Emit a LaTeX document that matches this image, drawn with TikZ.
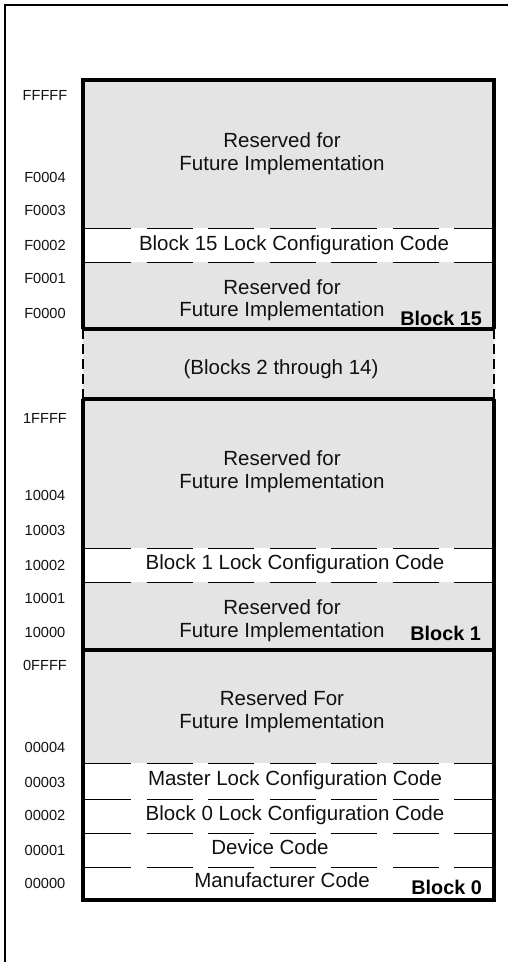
\documentclass[tikz,border=0pt]{standalone}
\usepackage{fontspec}
\setmainfont{Liberation Sans}
\definecolor{cellgray}{RGB}{228,228,228}
\definecolor{inktext}{RGB}{17,17,17}
\begin{document}
\begin{tikzpicture}[x=1pt,y=-1pt,
  lbl/.style={inner sep=0pt, text height=14.7pt, text depth=0pt, text=inktext,
              font=\fontsize{20.5}{24}\selectfont},
  addr/.style={inner sep=0pt, text height=10.5pt, text depth=0pt, text=inktext,
               font=\fontsize{14.6}{17}\selectfont},
  blk/.style={inner sep=0pt, anchor=east, text height=14.2pt, text depth=0pt,
              font=\fontsize{19.8}{24}\selectfont\bfseries},
  rowline/.style={line width=1pt, dash pattern=on 46pt off 15.5pt, dash phase=59.5pt},
  boxline/.style={line width=4pt},
  gapline/.style={line width=2.5pt, dash pattern=on 10pt off 5pt},
  frameline/.style={line width=2pt}]
\useasboundingbox (0,0) rectangle (508,962);

% page frame (left and top edges)
\draw[frameline] (5,962) -- (5,5) -- (508,5);

% cell fills
\fill[cellgray] (83,80) rectangle (494,228);
\fill[cellgray] (83,262) rectangle (494,329);
\fill[cellgray] (83,329) rectangle (494,399);
\fill[cellgray] (83,399) rectangle (494,548);
\fill[cellgray] (83,582) rectangle (494,650);
\fill[cellgray] (83,650) rectangle (494,763);

% dashed row separators
\foreach \yy in {228,262,548,582,763,799,833,867}
  \draw[rowline] (83,\yy) -- (494,\yy);

% block outlines
\draw[boxline] (83,329) -- (83,80) -- (494,80) -- (494,329);
\draw[boxline] (83,399) -- (83,900) -- (494,900) -- (494,399);
\draw[boxline] (83,329) -- (494,329);
\draw[boxline] (83,399) -- (494,399);
\draw[boxline] (83,650) -- (494,650);
\draw[gapline] (83,329) -- (83,399);
\draw[gapline] (494,329) -- (494,399);

% block 15
\node[lbl] (r15a1) at (282,140) {Reserved for};
\node[lbl] (r15a2) at (282,163) {Future Implementation};
\node[lbl] (lc15)  at (294,243) {Block 15 Lock Configuration Code};
\node[lbl] (r15b1) at (282,287) {Reserved for};
\node[lbl] (r15b2) at (282,309) {Future Implementation};
\node[blk] (b15)   at (482,318) {Block 15};

% blocks 2 through 14
\node[lbl] (mid) at (281,367) {(Blocks 2 through 14)};

% block 1
\node[lbl] (r1a1) at (282,458) {Reserved for};
\node[lbl] (r1a2) at (282,481) {Future Implementation};
\node[lbl] (lc1)  at (295,562) {Block 1 Lock Configuration Code};
\node[lbl] (r1b1) at (282,607) {Reserved for};
\node[lbl] (r1b2) at (282,630) {Future Implementation};
\node[blk] (b1)   at (481,633) {Block 1};

% block 0
\node[lbl] (r0a1) at (282,698) {Reserved For};
\node[lbl] (r0a2) at (282,721) {Future Implementation};
\node[lbl] (mlc)  at (295,778) {Master Lock Configuration Code};
\node[lbl] (lc0)  at (295,813) {Block 0 Lock Configuration Code};
\node[lbl] (dev)  at (270,847) {Device Code};
\node[lbl] (man)  at (282,880) {Manufacturer Code};
\node[blk] (b0)   at (482,887) {Block 0};

% addresses
\node[addr] (aFFFFF) at (45,95)  {FFFFF};
\node[addr] (aF0004) at (45,177) {F0004};
\node[addr] (aF0003) at (45,210) {F0003};
\node[addr] (aF0002) at (45,245) {F0002};
\node[addr] (aF0001) at (45,278) {F0001};
\node[addr] (aF0000) at (45,313) {F0000};
\node[addr] (a1FFFF) at (45,418) {1FFFF};
\node[addr] (a10004) at (45,495) {10004};
\node[addr] (a10003) at (45,530) {10003};
\node[addr] (a10002) at (45,565) {10002};
\node[addr] (a10001) at (45,598) {10001};
\node[addr] (a10000) at (45,632) {10000};
\node[addr] (a0FFFF) at (45,665) {0FFFF};
\node[addr] (a00004) at (45,747) {00004};
\node[addr] (a00003) at (45,782) {00003};
\node[addr] (a00002) at (45,815) {00002};
\node[addr] (a00001) at (45,850) {00001};
\node[addr] (a00000) at (45,883) {00000};
\end{tikzpicture}
\end{document}
